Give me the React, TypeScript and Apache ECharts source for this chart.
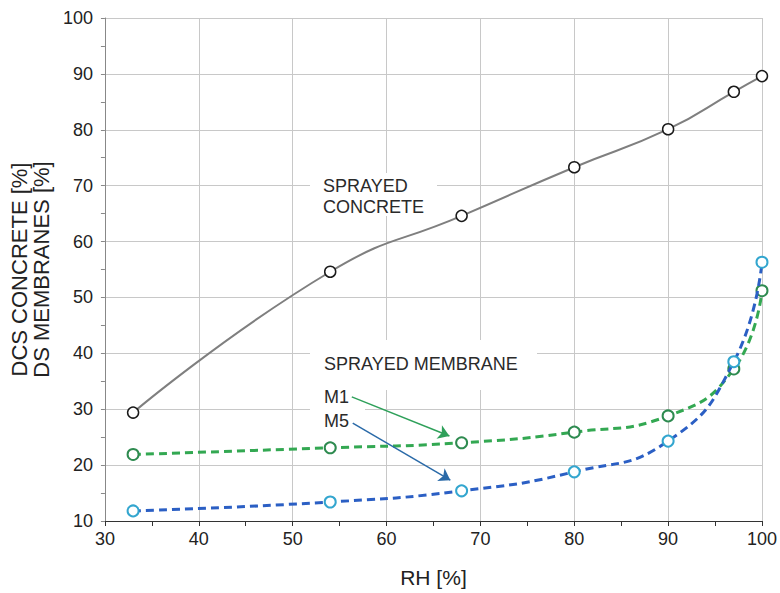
import React, { useEffect, useRef } from "react";
import * as echarts from "echarts";

const rh = [33, 54, 68, 80, 90, 97, 100];
const concrete = [29.4, 54.6, 64.6, 73.3, 80.1, 86.8, 89.6];
const m1 = [21.9, 23.1, 24.0, 25.9, 28.8, 37.2, 51.2];
const m5 = [11.8, 13.4, 15.4, 18.8, 24.3, 38.5, 56.3];

const xTicks = [30, 100, 10];
const yTicks = [10, 100, 10];

const arrowM1 = [[56.3, 32.2], [66.7, 25.2]];
const arrowM5 = [[56.4, 27.5], [66.8, 17.3]];

const FONT = "'Liberation Sans', Arial, sans-serif";

function pairs(xs: number[], ys: number[]) {
  return xs.map((x, i) => [x, ys[i]]);
}

export default function App() {
  const ref = useRef<HTMLDivElement>(null);
  useEffect(() => {
    document.body.style.margin = "0";
    if (!ref.current) return;
    const chart = echarts.init(ref.current, null, { renderer: "svg" });
    const textStyle = { fontFamily: FONT, fontSize: 18, fill: "#2a2a2a" };
    chart.setOption({
      animation: false,
      backgroundColor: "#fff",
      textStyle: { fontFamily: FONT },
      grid: { left: 103, right: 17, top: 18, bottom: 72 },
      xAxis: {
        type: "value",
        min: xTicks[0],
        max: xTicks[1],
        interval: xTicks[2],
        name: "RH [%]",
        nameLocation: "middle",
        nameGap: 46,
        nameTextStyle: { fontSize: 21, color: "#222", fontFamily: FONT },
        axisLine: { show: true, lineStyle: { color: "#333", width: 1 } },
        axisTick: { show: true, length: 5, lineStyle: { color: "#333" } },
        minorTick: { show: true, splitNumber: 2, length: 5, lineStyle: { color: "#333" } },
        axisLabel: { fontSize: 18, color: "#222", margin: 9, fontFamily: FONT },
        splitLine: { show: true, lineStyle: { color: "#c8c8c8", width: 1 } },
      },
      yAxis: {
        type: "value",
        min: yTicks[0],
        max: yTicks[1],
        interval: yTicks[2],
        name: "DCS CONCRETE [%]\nDS MEMBRANES [%]",
        nameLocation: "middle",
        nameGap: 52,
        nameRotate: 90,
        nameTextStyle: { fontSize: 22, color: "#222", lineHeight: 22, fontFamily: FONT },
        axisLine: { show: true, lineStyle: { color: "#888", width: 1 } },
        axisTick: { show: true, length: 4, lineStyle: { color: "#888" } },
        minorTick: { show: true, splitNumber: 2, length: 4, lineStyle: { color: "#888" } },
        axisLabel: { fontSize: 18, color: "#222", margin: 12, fontFamily: FONT },
        splitLine: { show: true, lineStyle: { color: "#c8c8c8", width: 1 } },
      },
      graphic: [
        { type: "rect", z: 1, shape: { x: 310, y: 173, width: 127, height: 43 }, style: { fill: "#fff" } },
        { type: "rect", z: 1, shape: { x: 310, y: 340, width: 227, height: 50 }, style: { fill: "#fff" } },
        { type: "rect", z: 1, shape: { x: 310, y: 390, width: 55, height: 38 }, style: { fill: "#fff" } },
        { type: "text", z: 3, x: 323, y: 175, style: { ...textStyle, text: "SPRAYED\nCONCRETE", lineHeight: 21 } },
        { type: "text", z: 3, x: 324, y: 355, style: { ...textStyle, text: "SPRAYED MEMBRANE" } },
        { type: "text", z: 3, x: 324, y: 385, style: { ...textStyle, text: "M1\nM5", lineHeight: 24 } },
      ],
      series: [
        {
          type: "line",
          name: "Concrete",
          data: pairs(rh, concrete),
          smooth: 0.5,
          symbol: "circle",
          symbolSize: 11,
          lineStyle: { color: "#7f7f7f", width: 2 },
          itemStyle: { color: "#fff", borderColor: "#1a1a1a", borderWidth: 1.5 },
          z: 3,
        },
        {
          type: "line",
          name: "M1",
          data: pairs(rh, m1),
          smooth: 0.5,
          symbol: "circle",
          symbolSize: 11,
          lineStyle: { color: "#33a852", width: 3, type: [8, 5] },
          itemStyle: { color: "#fff", borderColor: "#2e8b50", borderWidth: 2 },
          z: 4,
          markLine: {
            silent: true,
            symbol: ["none", "arrow"],
            symbolSize: 11,
            label: { show: false },
            lineStyle: { color: "#2fa05a", width: 1.5, type: "solid" },
            data: [[{ coord: arrowM1[0] }, { coord: arrowM1[1] }]],
          },
        },
        {
          type: "line",
          name: "M5",
          data: pairs(rh, m5),
          smooth: 0.5,
          symbol: "circle",
          symbolSize: 11,
          lineStyle: { color: "#2b5fc4", width: 3, type: [8, 5] },
          itemStyle: { color: "#fff", borderColor: "#33a6cf", borderWidth: 2 },
          z: 5,
          markLine: {
            silent: true,
            symbol: ["none", "arrow"],
            symbolSize: 11,
            label: { show: false },
            lineStyle: { color: "#2a6aa8", width: 1.5, type: "solid" },
            data: [[{ coord: arrowM5[0] }, { coord: arrowM5[1] }]],
          },
        },
      ],
    });
    return () => chart.dispose();
  }, []);
  return <div ref={ref} style={{ width: 780, height: 593 }} />;
}
